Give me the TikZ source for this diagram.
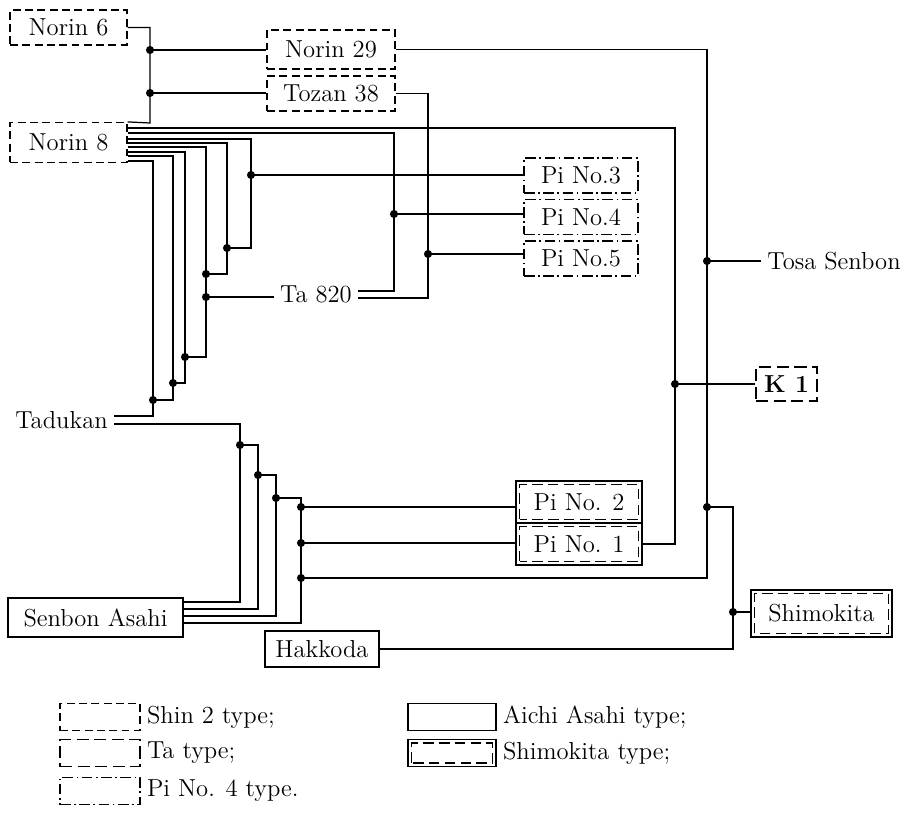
\documentclass[tikz,border=0pt]{standalone}
\usepackage{tikz}

\begin{document}
\begin{tikzpicture}[x=0.02cm,y=-0.02cm,line width=0.7pt,
    font=\fontsize{14}{16}\selectfont,
    box/.style={draw,inner sep=0pt,minimum height=0.7cm},
    shin/.style={box,dash pattern=on 4.5pt off 2.5pt},
    tatype/.style={box,dash pattern=on 7pt off 3pt},
    pitype/.style={box,dash pattern=on 6pt off 2pt on 1pt off 2pt},
    aichi/.style={box},
    shimo/.style={box,path picture={\draw[line width=0.6pt,dash pattern=on 6pt off 3pt]
        ([shift={(2pt,2pt)}]path picture bounding box.south west) rectangle
        ([shift={(-2pt,-2pt)}]path picture bounding box.north east);}}]
    \useasboundingbox (0,0) rectangle (907,815);
    % varieties
    \node[shin,minimum width=2.34cm] (n6) at (68.5,27.5) {Norin 6};
    \node[shin,minimum width=2.56cm,minimum height=0.78cm] (n29) at (331,49.5) {Norin 29};
    \node[shin,minimum width=2.56cm] (t38) at (331,93.5) {Tozan 38};
    \node[shin,minimum width=2.34cm,minimum height=0.8cm] (n8) at (68.5,142.5) {Norin 8};
    \node[pitype,minimum width=2.28cm] (p3) at (581,175.5) {Pi No.3};
    \node[pitype,minimum width=2.28cm] (p4) at (581,217) {Pi No.4};
    \node[pitype,minimum width=2.28cm] (p5) at (581,258.5) {Pi No.5};
    \node (tosa) at (834,261) {Tosa Senbon};
    \node[tatype,minimum width=1.22cm,minimum height=0.68cm,font=\fontsize{14}{16}\selectfont\bfseries] (k1) at (786.5,384) {K 1};
    \node (tad) at (61.5,420) {Tadukan};
    \node (ta) at (316,294.5) {Ta 820};
    \node[shimo,minimum width=2.52cm,minimum height=0.84cm] (p2) at (579,502) {Pi No. 2};
    \node[shimo,minimum width=2.52cm,minimum height=0.84cm] (p1) at (579,544) {Pi No. 1};
    \node[aichi,minimum width=3.5cm,minimum height=0.78cm] (sa) at (95.5,617.5) {Senbon Asahi};
    \node[aichi,minimum width=2.28cm,minimum height=0.72cm] (hak) at (322,649) {Hakkoda};
    \node[shimo,minimum width=2.82cm,minimum height=0.94cm] (shi) at (821.5,613.5) {Shimokita};
    % crossing points
    \coordinate (b68) at (150,123);
    \coordinate (j29) at (150,50);
    \coordinate (j38) at (150,93);
    \coordinate (r1) at (707,578);
    \coordinate (jts) at (707,261);
    \coordinate (jsh) at (707,507);
    \coordinate (r2) at (733,507);
    \coordinate (jsk) at (733,612);
    \coordinate (c5) at (428,298);
    \coordinate (j5) at (428,254);
    \coordinate (c1) at (675,128);
    \coordinate (jk1) at (675,384);
    \coordinate (c2) at (394,133);
    \coordinate (c2b) at (394,291);
    \coordinate (j4) at (394,214);
    \coordinate (j3) at (251,175);
    \coordinate (c3) at (251,248);
    \coordinate (j3s) at (227,248);
    \coordinate (c4) at (227,274);
    \coordinate (j4s) at (206,274);
    \coordinate (jta) at (206,297);
    \coordinate (c5b) at (206,357);
    \coordinate (j5s) at (185,357);
    \coordinate (c6) at (185,383);
    \coordinate (j6s) at (173,383);
    \coordinate (c7) at (173,400);
    \coordinate (j7s) at (153,400);
    \coordinate (c8) at (153,416);
    \coordinate (s1) at (240,602);
    \coordinate (js1) at (240,445);
    \coordinate (s2) at (258,609);
    \coordinate (js2) at (258,475);
    \coordinate (s3) at (276,616);
    \coordinate (js3) at (276,498);
    \coordinate (s4) at (301,623);
    \coordinate (jp2) at (301,507);
    \coordinate (jp1) at (301,543);
    \coordinate (jb) at (301,578);
    % Norin 6 x Norin 8
    \draw (n6.east) -| (b68) -- (n8.north east);
    \draw (j29) -- (j29 -| n29.west);
    \draw (j38) -- (j38 -| t38.west);
    % Norin 29 down to Tosa Senbon and Shimokita
    \draw (n29.east) -| (r1) -- (jb);
    \draw (jts) -- (jts -| tosa.west);
    \draw (jsh) -- (r2) |- (hak.east);
    \draw (jsk) -- (jsk -| shi.west);
    % Tozan 38
    \draw (t38.east) -| (c5) -- (c5 -| ta.east);
    \draw (j5) -- (j5 -| p5.west);
    % Norin 8, backcrossed onto Tadukan
    \draw (n8.east |- c1) -- (c1) |- (p1.east);
    \draw (jk1) -- (k1.west);
    \draw (n8.east |- c2) -- (c2) -- (c2b) -- (c2b -| ta.east);
    \draw (j4) -- (j4 -| p4.west);
    \draw (n8.east |- 0,139) -| (c3) -- (j3s);
    \draw (j3) -- (j3 -| p3.west);
    \draw (n8.east |- 0,143) -| (c4) -- (j4s);
    \draw (n8.east |- 0,147) -| (c5b) -- (j5s);
    \draw (jta) -- (jta -| ta.west);
    \draw (n8.east |- 0,152) -| (c6) -- (j6s);
    \draw (n8.east |- 0,156) -| (c7) -- (j7s);
    \draw (n8.east |- 0,161) -| (c8) -- (c8 -| tad.east);
    % Tadukan backcrossed with Senbon Asahi
    \draw (tad.east |- 0,424) -| (s1) -- (s1 -| sa.east);
    \draw (js1) -| (s2) -- (s2 -| sa.east);
    \draw (js2) -| (s3) -- (s3 -| sa.east);
    \draw (js3) -| (s4) -- (s4 -| sa.east);
    \draw (jp2) -- (jp2 -| p2.west);
    \draw (jp1) -- (jp1 -| p1.west);
    \foreach \p in {j29,j38,jts,jsh,jsk,j5,jk1,j4,j3,j3s,j4s,jta,j5s,j6s,j7s,js1,js2,js3,jp2,jp1,jb}
      \fill (\p) circle (2.3pt);
    % legend
    \node[shin,minimum width=1.6cm,minimum height=0.54cm] (lg1) at (100,717) {};
    \node[tatype,minimum width=1.6cm,minimum height=0.54cm] (lg2) at (100,753) {};
    \node[pitype,minimum width=1.6cm,minimum height=0.54cm] (lg3) at (100,791) {};
    \node[aichi,minimum width=1.76cm,minimum height=0.54cm] (lg4) at (452,717) {};
    \node[shimo,minimum width=1.76cm,minimum height=0.54cm] (lg5) at (452,753) {};
    \node[anchor=west] (lt1) at (lg1.east) {Shin 2 type;};
    \node[anchor=west] (lt2) at (lg2.east) {Ta type;};
    \node[anchor=west] (lt3) at (lg3.east) {Pi No. 4 type.};
    \node[anchor=west] (lt4) at (lg4.east) {Aichi Asahi type;};
    \node[anchor=west] (lt5) at (lg5.east) {Shimokita type;};
  \end{tikzpicture}
\end{document}
